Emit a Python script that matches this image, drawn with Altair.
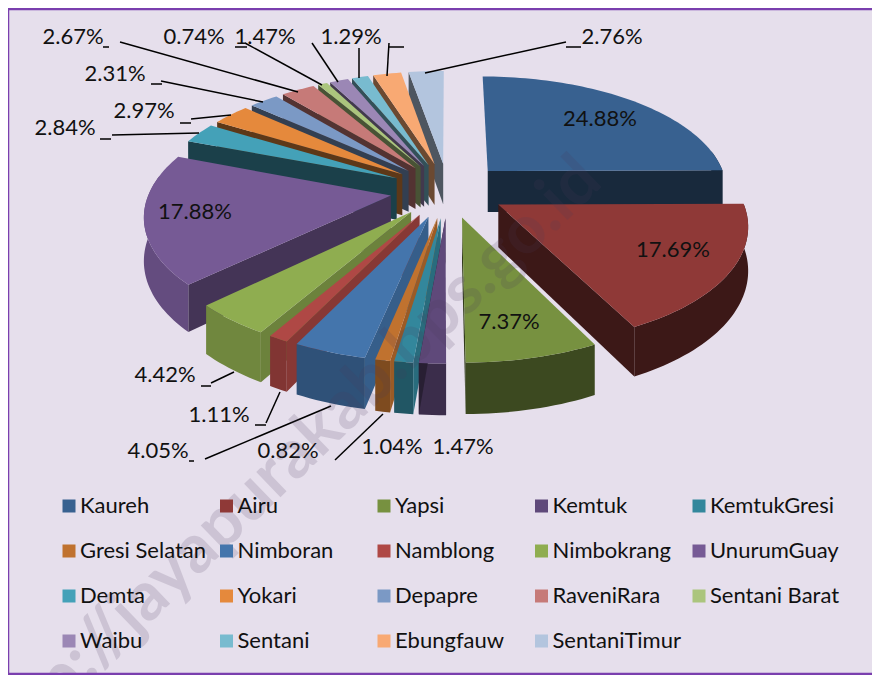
import altair as alt
import numpy as np
import pandas as pd

# ---- data ----
names = ["Kaureh", "Airu", "Yapsi", "Kemtuk", "KemtukGresi", "Gresi Selatan", "Nimboran",
         "Namblong", "Nimbokrang", "UnurumGuay", "Demta", "Yokari", "Depapre", "RaveniRara",
         "Sentani Barat", "Waibu", "Sentani", "Ebungfauw", "SentaniTimur"]
shares = [24.88, 17.69, 7.37, 1.47, 1.04, 0.82, 4.05, 1.11, 4.42, 17.88, 2.84, 2.97, 2.31,
          2.67, 0.74, 1.47, 1.29, 2.22, 2.76]
colours = ["#386190", "#8F3937", "#779140", "#5F497A", "#33879C", "#C0722F", "#4475AC",
           "#AF4845", "#8FAD50", "#765A95", "#44A1B8", "#E5893C", "#7B99C5", "#C67A78",
           "#ABC57D", "#9B87B5", "#78BBCF", "#F8A973", "#B3C5DE"]

# ---- labels (percent text, then where it sits on the page) ----
label_text = ["24.88%", "17.69%", "7.37%", "1.47%", "1.04%", "0.82%", "4.05%", "1.11%", "4.42%",
              "17.88%", "2.84%", "2.97%", "2.31%", "2.67%", "0.74%", "1.47%", "1.29%", "2.76%"]
label_x = [600, 673, 509, 463, 392, 288, 158, 219, 165, 195, 65, 144, 115, 73, 194, 265, 351, 612]
label_y = [119, 250, 322, 447, 447, 451, 451, 415, 375, 212, 128, 111, 74, 37, 37, 37, 37, 37]
leaders = [(120, 42, 298, 92), (161, 81, 263, 102), (191, 119, 231, 115), (112, 135, 199, 133),
           (245, 43, 322, 85), (312, 43, 338, 82), (359, 48, 359, 78), (389, 43, 387, 76),
           (566, 42, 425, 73), (211, 383, 234, 372), (266, 423, 280, 392), (205, 459, 331, 406),
           (335, 460, 383, 414), (103, 47, 109, 47), (151, 84, 162, 84), (180, 123, 191, 123),
           (100, 139, 111, 139), (235, 47, 247, 47), (389, 47, 404, 47), (566, 47, 581, 47),
           (201, 386, 211, 386), (255, 425, 266, 425), (189, 461, 194, 461)]

# ---- pie geometry (page pixels) ----
OFF = 8
CX, CY = 448, 190
A, B = 241, 114
K = 0.15
DEPTH = 42
EXPLODE_X, EXPLODE_Y = 0.24, 0.24


def project(u, v, drop=0.0):
    s = 1 / (1 - K * v)
    return [CX + A * u * s - OFF, CY + (B * v + drop) * s - OFF]


def shade(hex_colour, f):
    rgb = [int(hex_colour[i:i + 2], 16) for i in (1, 3, 5)]
    return "#%02X%02X%02X" % tuple(int(round(c * f)) for c in rgb)


def feat(points, key):
    return {"type": "Feature", "properties": {"key": key},
            "geometry": {"type": "Polygon", "coordinates": [points + [points[0]]]}}


edges = np.cumsum([0] + shares) / sum(shares) * 360
wall_a, wall_f = [45, 121, 166, 183, 200, 218, 259, 360], [.42, .42, .5, .62, .7, .78, .85, .85]
cut_a, cut_f = [200, 218, 226, 290, 360], [.8, .72, .58, .4, .44]

slices = []
for i, name in enumerate(names):
    t0, t1 = edges[i], edges[i + 1]
    mid = np.radians((t0 + t1) / 2)
    ax, ay = EXPLODE_X * np.sin(mid), -EXPLODE_Y * np.cos(mid)
    ths = np.radians(np.linspace(t0, t1, max(3, int((t1 - t0) / 1.5) + 2)))
    rim = [(ax + np.sin(t), ay - np.cos(t)) for t in ths]
    top = [project(ax, ay)] + [project(*p) for p in rim]
    front = [(ax + np.sin(t), ay - np.cos(t)) for t in ths if np.cos(t) < 0.2]
    mid_deg = (t0 + t1) / 2
    wall_col = shade(colours[i], float(np.interp(mid_deg, wall_a, wall_f)))
    cut_col = shade(colours[i], 0.42 if t0 < 180 else float(np.interp(t0, cut_a, cut_f)))
    edge = rim[-1] if t0 < 180 else rim[0]
    cut = [project(ax, ay), project(*edge), project(*edge, DEPTH), project(ax, ay, DEPTH)]
    faces = [feat(cut, cut_col), feat(top, name)]
    if len(front) >= 2:
        outer = [project(*p) for p in front] + [project(*p, DEPTH) for p in front[::-1]]
        faces.insert(0, feat(outer, wall_col))
    slices.append((ay, faces, wall_col, cut_col))

features = []
extra = []
for _, fs, w, c in sorted(slices, key=lambda s: s[0]):
    features += fs
    extra += [w, c]
extra = list(dict.fromkeys(extra))

dom = names + extra
rng = colours + extra

pie = alt.Chart(alt.Data(values=features)).mark_geoshape(strokeWidth=0).encode(
    color=alt.Color("properties.key:N", scale=alt.Scale(domain=dom, range=rng),
                    legend=alt.Legend(title=None, orient="none", legendX=50, legendY=487,
                                      direction="horizontal",
                                      values=names, columns=5, gridAlign="all",
                                      symbolType="square", symbolSize=169, symbolStrokeWidth=0,
                                      symbolOpacity=1, labelFont="Lato", labelFontSize=22,
                                      labelColor="#111111", labelOffset=0, labelLimit=200,
                                      columnPadding=5.5, rowPadding=23, padding=0))
).project(type="identity", scale=1, translate=[0, 0])

labels = alt.Chart(pd.DataFrame({"t": label_text, "x": np.array(label_x) - OFF,
                                 "y": np.array(label_y) - OFF})).mark_text(
    font="Lato", fontSize=22, color="#111111", align="center", baseline="middle"
).encode(x=alt.X("x:Q", scale=None), y=alt.Y("y:Q", scale=None), text="t:N")

lead = pd.DataFrame(np.array(leaders) - OFF, columns=["x", "y", "x2", "y2"])
lines = alt.Chart(lead).mark_rule(color="#000000", strokeWidth=1.5).encode(
    x=alt.X("x:Q", scale=None), y=alt.Y("y:Q", scale=None), x2="x2:Q", y2="y2:Q")

frame = pd.DataFrame({"x": [0, 0, 0], "y": [1, 1, 666], "x2": [0, 880, 880], "y2": [666, 1, 666]})
border = alt.Chart(frame).mark_rule(color="#7A3FAE", strokeWidth=2.5).encode(
    x=alt.X("x:Q", scale=None), y=alt.Y("y:Q", scale=None), x2="x2:Q", y2="y2:Q")

mark = alt.Chart(pd.DataFrame({"t": ["http://jayapurakab.bps.go.id"], "x": [288 - OFF], "y": [462 - OFF]})).mark_text(
    font="Lato", fontSize=68, fontWeight="bold", color="#4A3A5A", opacity=0.16, angle=316,
    align="center", baseline="middle"
).encode(x=alt.X("x:Q", scale=None), y=alt.Y("y:Q", scale=None), text="t:N")

chart = alt.layer(pie, lines, labels, mark, border).properties(
    width=864, height=667, background="#E6DFEC", padding=0,
    autosize=alt.AutoSizeParams(type="none"),
).configure_view(stroke=None)

chart.save("out.html", embed_options={"renderer": "svg", "actions": False})
